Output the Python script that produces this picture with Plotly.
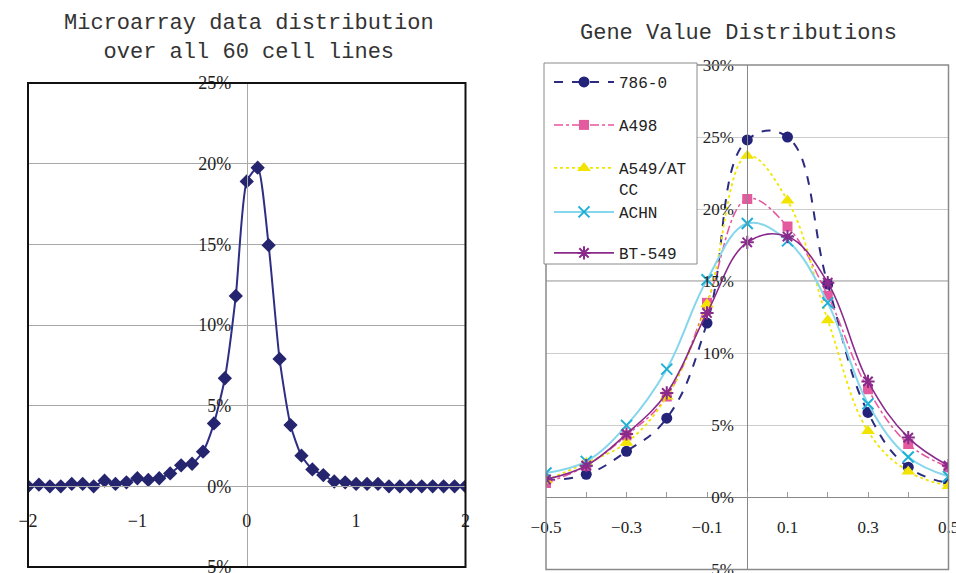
import plotly.graph_objects as go

W, H = 956, 573

# ---------------- data ----------------
left_x = [-2.0, -1.9, -1.8, -1.7, -1.6, -1.5, -1.4, -1.3, -1.2, -1.1,
          -1.0, -0.9, -0.8, -0.7, -0.6, -0.5, -0.4, -0.3, -0.2, -0.1,
          0.0, 0.1, 0.2, 0.3, 0.4, 0.5, 0.6, 0.7, 0.8, 0.9,
          1.0, 1.1, 1.2, 1.3, 1.4, 1.5, 1.6, 1.7, 1.8, 1.9, 2.0]
left_pct = [0.0, 0.1, 0.0, 0.0, 0.15, 0.15, 0.0, 0.35, 0.15, 0.25,
            0.5, 0.4, 0.5, 0.8, 1.3, 1.4, 2.15, 3.9, 6.7, 11.8,
            18.9, 19.75, 14.95, 7.9, 3.8, 1.9, 1.05, 0.7, 0.3, 0.25,
            0.15, 0.15, 0.15, 0.0, 0.0, 0.0, 0.0, 0.0, 0.0, 0.0, 0.0]

right_x = [-0.5, -0.4, -0.3, -0.2, -0.1, 0.0, 0.1, 0.2, 0.3, 0.4, 0.5]
series_names = ["786-0", "A498", "A549/ATCC", "ACHN", "BT-549"]
s_786_0 = [1.2, 1.6, 3.2, 5.5, 12.1, 24.8, 25.0, 14.8, 5.9, 2.1, 1.0]
s_a498 = [1.0, 2.2, 4.3, 7.0, 13.5, 20.7, 18.8, 14.0, 7.5, 3.7, 2.1]
s_a549 = [1.2, 2.4, 3.8, 7.0, 13.4, 23.7, 20.6, 12.3, 4.6, 1.8, 0.8]
s_achn = [1.7, 2.5, 5.0, 8.9, 15.1, 19.0, 17.8, 13.5, 6.5, 2.8, 1.45]
s_bt549 = [1.25, 2.2, 4.4, 7.25, 12.8, 17.7, 18.1, 14.9, 8.05, 4.15, 2.2]
right_series = [s_786_0, s_a498, s_a549, s_achn, s_bt549]

left_title = "Microarray data distribution<br>over all 60 cell lines"
right_title = "Gene Value Distributions"
left_xticks = [-2, -1, 0, 1, 2]
right_xticks = [-0.5, -0.3, -0.1, 0.1, 0.3, 0.5]
right_emph_grid = 15  # darker gridline level on right chart

# ---------------- layout geometry (pixels -> paper) ----------------
def px(p):
    return p / W

def py(p):
    return 1 - p / H

L_dx = [px(28), px(465.5)]
L_dy = [py(567), py(83)]
R_dx = [px(546), px(948.5)]
R_dy = [py(569.5), py(65)]
L_xr, L_yr = [-2, 2], [-5, 25]
R_xr, R_yr = [-0.5, 0.5], [-5, 30]

def frac(v, r):
    return (v - r[0]) / (r[1] - r[0])

L_ypos = L_dx[0] + frac(0, L_xr) * (L_dx[1] - L_dx[0])
L_xpos = L_dy[0] + frac(0, L_yr) * (L_dy[1] - L_dy[0])
R_ypos = R_dx[0] + frac(0, R_xr) * (R_dx[1] - R_dx[0])
R_xpos = R_dy[0] + frac(0, R_yr) * (R_dy[1] - R_dy[0])

tick_font = dict(family="Liberation Serif", size=18, color="#222")
rtick_font = dict(family="Liberation Serif", size=17, color="#222")
grid_c = "#a8a8a8"

fig = go.Figure()

fig.add_trace(go.Scatter(
    x=left_x, y=left_pct, mode="lines+markers", xaxis="x", yaxis="y",
    line=dict(color="#2e2e85", width=2, shape="spline", smoothing=0.6),
    marker=dict(symbol="diamond", size=11, color="#25256f"),
    showlegend=False, hoverinfo="x+y"))

styles = [
    dict(line=dict(color="#2b2b80", width=2, dash="dash", shape="spline", smoothing=1.2),
         marker=dict(symbol="circle", size=11, color="#23237a")),
    dict(line=dict(color="#e8559f", width=1.5, dash="dashdot", shape="spline", smoothing=1.1),
         marker=dict(symbol="square", size=10, color="#e45a9f")),
    dict(line=dict(color="#f0e600", width=1.8, dash="dot", shape="spline", smoothing=1.1),
         marker=dict(symbol="triangle-up", size=12, color="#f2e400")),
    dict(line=dict(color="#86d6ee", width=2, shape="spline", smoothing=1.1),
         marker=dict(symbol="x-thin-open", size=11, color="#1fb0d6",
                     line=dict(width=2, color="#1fb0d6"))),
    dict(line=dict(color="#8a2a8a", width=1.6, shape="spline", smoothing=1.1),
         marker=dict(symbol="asterisk-open", size=11, color="#8a2a8a",
                     line=dict(width=2, color="#8a2a8a"))),
]
legend_ids = ["legend", "legend2", "legend3", "legend4", "legend5"]
legend_labels = [n if len(n) <= 7 else n[:7] + "<br>" + n[7:] for n in series_names]
for lab, vals, st, lg in zip(legend_labels, right_series, styles, legend_ids):
    fig.add_trace(go.Scatter(
        x=right_x, y=vals, mode="lines+markers", name=lab,
        xaxis="x2", yaxis="y2", legend=lg, **st))

legend_y_px = [77, 120, 163, 207, 248]
legend_font = dict(family="Liberation Mono", size=16, color="#222")
leg_layout = {}
for lg, ypx, lab in zip(legend_ids, legend_y_px, legend_labels):
    multi = "<br>" in lab
    leg_layout[lg] = dict(
        x=px(549), y=py(ypx - 12), xanchor="left", yanchor="top",
        bgcolor="rgba(0,0,0,0)", borderwidth=0, font=legend_font,
        itemwidth=60, valign="top" if multi else "middle",
        itemclick=False, itemdoubleclick=False)

fig.update_layout(
    template="none",
    width=W, height=H, margin=dict(l=0, r=0, t=0, b=0, pad=0, autoexpand=False),
    paper_bgcolor="white", plot_bgcolor="white",
    showlegend=True,
    xaxis=dict(domain=L_dx, range=L_xr, anchor="free", position=L_xpos,
               tickvals=left_xticks, showgrid=False, zeroline=False,
               showline=True, linecolor=grid_c, linewidth=1, automargin=False,
               tickfont=tick_font, ticks="", ticklabelstandoff=18,
               ticklabeloverflow="allow"),
    yaxis=dict(domain=L_dy, range=L_yr, anchor="free", position=L_ypos,
               dtick=5, ticksuffix="%", showgrid=True, gridcolor=grid_c,
               gridwidth=1, zeroline=False, showline=True, linecolor=grid_c,
               linewidth=1, tickfont=tick_font, ticks="", ticklabelstandoff=12,
               automargin=False, ticklabeloverflow="allow"),
    xaxis2=dict(domain=R_dx, range=R_xr, anchor="free", position=R_xpos,
                tickvals=right_xticks, tickformat=".1f", showgrid=False,
                zeroline=False, showline=True, linecolor="#888", linewidth=1,
                tickfont=rtick_font,
                ticks="inside", ticklen=5, tickcolor="#999",
                minor=dict(dtick=0.1, ticks="inside", ticklen=5, tickcolor="#999"),
                ticklabelstandoff=14, automargin=False, ticklabeloverflow="allow"),
    yaxis2=dict(domain=R_dy, range=R_yr, anchor="free", position=R_ypos,
                dtick=5, ticksuffix="%", showgrid=True, gridcolor="#cdcdcd",
                gridwidth=1, zeroline=False, showline=True, linecolor="#888",
                linewidth=1, ticks="", tickfont=rtick_font,
                ticklabelstandoff=10, automargin=False, ticklabeloverflow="allow"),
    shapes=[
        dict(type="line", xref="x2 domain", yref="y2", x0=0, x1=1,
             y0=right_emph_grid, y1=right_emph_grid,
             line=dict(color="#8c8c8c", width=1.3), layer="below"),
        dict(type="rect", xref="x domain", yref="y domain", x0=0, x1=1, y0=0, y1=1,
             line=dict(color="#111", width=2), layer="above"),
        dict(type="rect", xref="x2 domain", yref="y2 domain", x0=0, x1=1, y0=0, y1=1,
             line=dict(color="#8a8a8a", width=1.5), layer="above"),
        dict(type="rect", xref="paper", yref="paper", x0=px(544), x1=px(697),
             y0=py(264), y1=py(63), fillcolor="white",
             line=dict(color="#8a8a8a", width=1), layer="above"),
    ],
    annotations=[
        dict(text=left_title, xref="paper", yref="paper", x=px(249), y=py(38),
             xanchor="center", yanchor="middle", showarrow=False,
             font=dict(family="Liberation Mono", size=22, color="#333")),
        dict(text=right_title, xref="paper", yref="paper", x=px(738), y=py(33),
             xanchor="center", yanchor="middle", showarrow=False,
             font=dict(family="Liberation Mono", size=22, color="#333")),
    ],
    **leg_layout,
)

fig.write_html("out.html")
